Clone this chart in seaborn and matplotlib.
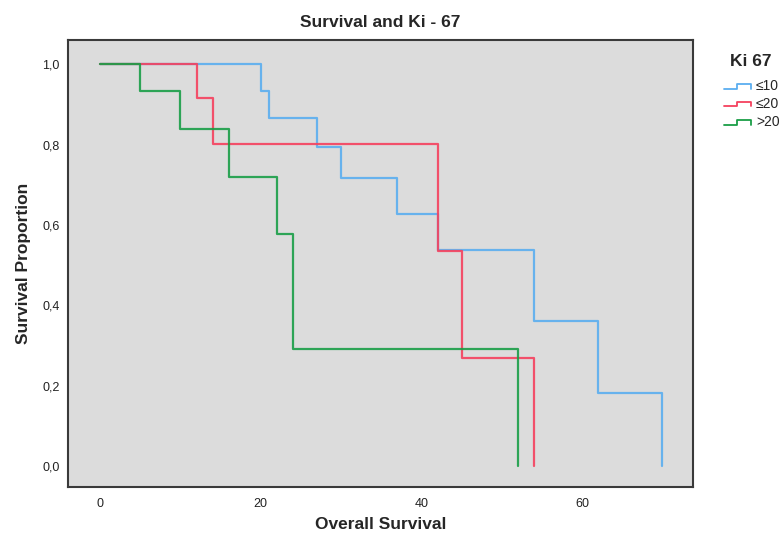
import numpy as np
import pandas as pd
import seaborn as sns
import matplotlib.pyplot as plt
from matplotlib.lines import Line2D

# Kaplan-Meier steps (months, survival proportion)
groups = ['≤10', '≤20', '>20']
time_le10 = [0, 20, 21, 27, 30, 37, 42, 54, 62, 70]
surv_le10 = [1.0, 0.933, 0.867, 0.794, 0.716, 0.627, 0.537, 0.360, 0.182, 0.0]
time_le20 = [0, 12, 14, 42, 45, 54]
surv_le20 = [1.0, 0.916, 0.802, 0.536, 0.270, 0.0]
time_gt20 = [0, 5, 10, 16, 22, 24, 52]
surv_gt20 = [1.0, 0.933, 0.839, 0.720, 0.577, 0.291, 0.0]
colors = ['#5aaef0', '#f5415e', '#1a9e47']

df = pd.concat([
    pd.DataFrame({'time': time_le10, 'surv': surv_le10, 'Ki 67': groups[0]}),
    pd.DataFrame({'time': time_le20, 'surv': surv_le20, 'Ki 67': groups[1]}),
    pd.DataFrame({'time': time_gt20, 'surv': surv_gt20, 'Ki 67': groups[2]}),
], ignore_index=True)

sns.set_style('white')
plt.rcParams['font.family'] = ['Liberation Sans', 'DejaVu Sans']

fig = plt.figure(figsize=(7.8, 5.41), dpi=100)
ax = fig.add_axes([68 / 780, 1 - 487 / 541, 625 / 780, 447 / 541])
ax.set_facecolor('#dcdcdc')

sns.lineplot(data=df, x='time', y='surv', hue='Ki 67', palette=colors,
             hue_order=groups, estimator=None, sort=False, drawstyle='steps-post',
             linewidth=1.6, alpha=0.9, legend=False, ax=ax)

ax.set_xlim(-4, 73.8)
ax.set_ylim(-0.052, 1.06)
ax.set_xticks([0, 20, 40, 60])
ax.set_yticks([0, 0.2, 0.4, 0.6, 0.8, 1.0])
ax.set_yticklabels(['0,0', '0,2', '0,4', '0,6', '0,8', '1,0'])
ax.tick_params(length=0, labelsize=9, pad=6, colors='#222222')
ax.tick_params(axis='x', pad=8)
for s in ax.spines.values():
    s.set_color('#3a3a3a')
    s.set_linewidth(1.5)

ax.set_title('Survival and Ki - 67', fontsize=12.5, fontweight='bold', pad=9)
ax.set_xlabel('Overall Survival', fontsize=12.5, fontweight='bold', labelpad=5)
ax.set_ylabel('Survival Proportion', fontsize=12.5, fontweight='bold', labelpad=8)

# legend drawn by hand with step-shaped keys like the SPSS output
fig.text(751 / 780, 1 - 61 / 541, 'Ki 67', fontsize=12.5, fontweight='bold',
         ha='center', va='center')
for i, (g, c) in enumerate(zip(groups, colors)):
    yc = 86 + i * 18
    lo, hi = 1 - (yc + 2.5) / 541, 1 - (yc - 2.5) / 541
    xs = np.array([724, 737, 737, 750.5, 750.5]) / 780
    fig.add_artist(Line2D(xs, [lo, lo, hi, hi, lo], color=c, lw=1.3))
    fig.text(756 / 780, 1 - yc / 541, g, fontsize=10, ha='left', va='center')

fig.savefig('out.png', dpi=100)
